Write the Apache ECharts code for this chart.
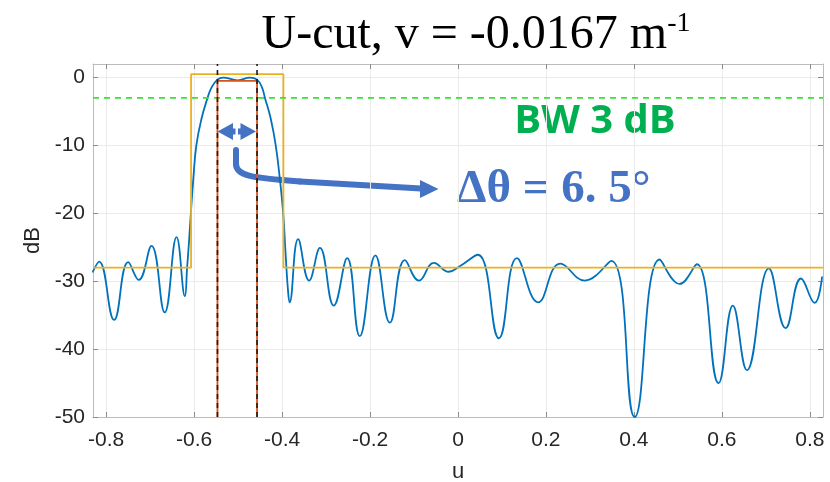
<!DOCTYPE html>
<html>
<head>
<meta charset="utf-8">
<script src="https://cdn.jsdelivr.net/npm/echarts@6/dist/echarts.min.js"></script>
<style>
  html, body { margin: 0; padding: 0; background: #fff; }
  #main { width: 830px; height: 482px; }
</style>
</head>
<body>
<div id="main"></div>
<script>
// radiation pattern cut
const patternU = [
  -0.831, -0.816, -0.782, -0.750, -0.726, -0.697, -0.667, -0.640, -0.621, -0.616,
  -0.6115, -0.6075, -0.602, -0.595, -0.583, -0.5695, -0.560, -0.547, -0.534, -0.501,
  -0.473, -0.457, -0.446, -0.439, -0.426, -0.4145, -0.405, -0.3975, -0.392, -0.387,
  -0.383, -0.3636, -0.3386, -0.314, -0.2825, -0.252, -0.2234, -0.1878, -0.155, -0.121,
  -0.0886, -0.055, -0.021, 0.004, 0.045, 0.093, 0.134, 0.182, 0.2327, 0.288,
  0.3486, 0.4016, 0.4584, 0.504, 0.543, 0.5925, 0.625, 0.657, 0.707, 0.745,
  0.780, 0.811, 0.828
]
const patternDb = [
  -28.7, -27.1, -35.7, -27.2, -29.8, -24.8, -34.6, -23.5, -32.2, -28,
  -24, -20, -15, -10, -6, -3, -1.4, -0.3, 0, -0.4,
  0, -0.3, -1.4, -3, -6, -10, -15, -20, -26, -31,
  -33.1, -23.8, -29.9, -25.1, -33.6, -26.6, -38.1, -26.2, -36.1, -26.9,
  -29.9, -27.3, -28.6, -27.8, -26.1, -38.4, -26.6, -33.1, -27.4, -29.9,
  -27.0, -50, -26.8, -30.4, -27.5, -45, -33.6, -43.1, -28.1, -36.9,
  -29.6, -33.2, -29.3
]
// mask (yellow)
const maskU = [-0.83, -0.607, -0.607, -0.397, -0.397, 0.83]
const maskDb = [-28, -28, 0.5, 0.5, -28, -28]
// beam edges
const edgeU = [-0.547, -0.457]
const edgeTopDb = -0.5
const bw3Db = -3

const xTicks = [-0.8, -0.6, -0.4, -0.2, 0, 0.2, 0.4, 0.6, 0.8]
const yTicks = [-50, -40, -30, -20, -10, 0]
const xMin = -0.83, xMax = 0.83, yMin = -50, yMax = 2

const zip = (a, b) => a.map((v, i) => [v, b[i]])

const chart = echarts.init(document.getElementById('main'), null, { renderer: 'canvas' })

const axisFont = { fontFamily: 'Liberation Sans', fontSize: 21, color: '#262626' }
const boxLine = { show: true, onZero: false, lineStyle: { color: '#bcbcbc', width: 1 } }
const tickStyle = { show: true, inside: true, length: 5, lineStyle: { color: '#8c8c8c' } }

const vline = (u, top, color, type) => ({
  type: 'line',
  data: [[u, yMin], [u, top]],
  showSymbol: false,
  silent: true,
  lineStyle: { color: color, width: 1.6, type: type }
})

const arrowBlue = '#4472c4'
const arrowLine = { fill: null, stroke: arrowBlue, lineWidth: 6, lineCap: 'round' }

const option = {
  animation: false,
  backgroundColor: '#fff',
  grid: { left: 93, right: 7, top: 64, bottom: 65, containLabel: false, outerBoundsMode: 'none' },
  xAxis: [{
    type: 'value', min: xMin, max: xMax,
    name: 'u', nameLocation: 'middle', nameGap: 44,
    nameTextStyle: { fontFamily: 'Liberation Sans', fontSize: 22, color: '#262626' },
    axisLine: boxLine,
    axisTick: Object.assign({ customValues: xTicks }, tickStyle),
    axisLabel: Object.assign({ customValues: xTicks, margin: 13 }, axisFont),
    splitLine: { show: true, lineStyle: { color: '#ebebeb' } }
  }, {
    type: 'value', min: xMin, max: xMax, position: 'top',
    axisLine: boxLine,
    axisTick: Object.assign({ customValues: xTicks }, tickStyle),
    axisLabel: { show: false },
    splitLine: { show: false }
  }],
  yAxis: [{
    type: 'value', min: yMin, max: yMax,
    name: 'dB', nameLocation: 'middle', nameGap: 45,
    nameTextStyle: { fontFamily: 'Liberation Sans', fontSize: 22, color: '#262626' },
    axisLine: boxLine,
    axisTick: Object.assign({ customValues: yTicks }, tickStyle),
    axisLabel: Object.assign({ customValues: yTicks, margin: 8 }, axisFont),
    splitLine: { show: true, lineStyle: { color: '#ebebeb' } }
  }, {
    type: 'value', min: yMin, max: yMax, position: 'right',
    axisLine: boxLine,
    axisTick: Object.assign({ customValues: yTicks }, tickStyle),
    axisLabel: { show: false },
    splitLine: { show: false }
  }],
  series: [
    {
      type: 'line',
      data: zip(patternU, patternDb),
      smooth: 0.45,
      showSymbol: false,
      lineStyle: { color: '#0072bd', width: 1.8 }
    },
    {
      type: 'line',
      data: zip(maskU, maskDb),
      showSymbol: false,
      lineStyle: { color: '#edb120', width: 1.8 }
    },
    {
      type: 'line',
      data: [[xMin, bw3Db], [xMax, bw3Db]],
      showSymbol: false,
      lineStyle: { color: '#33e633', width: 1.8, type: [6, 5] }
    },
    {
      type: 'line',
      data: [[edgeU[0], yMin], [edgeU[0], edgeTopDb], [edgeU[1], edgeTopDb], [edgeU[1], yMin]],
      showSymbol: false,
      lineStyle: { color: '#d95319', width: 1.8 }
    },
    vline(edgeU[0], yMax, '#1a1a1a', [5, 4]),
    vline(edgeU[1], yMax, '#1a1a1a', [5, 4])
  ],
  graphic: [
    {
      type: 'text', x: 476, y: 35,
      style: {
        text: '{a|U-cut, v = -0.0167 m}{s|-1}',
        align: 'center', verticalAlign: 'middle',
        rich: {
          a: { fontFamily: 'Liberation Serif', fontSize: 48, fill: '#000' },
          s: { fontFamily: 'Liberation Serif', fontSize: 28, fill: '#000', verticalAlign: 'top', padding: [0, 0, 22, 0] }
        }
      }
    },
    {
      type: 'text', x: 595, y: 122,
      style: {
        text: 'BW 3 dB', align: 'center', verticalAlign: 'middle',
        fontFamily: 'Open Sans', fontWeight: 'bold', fontSize: 40, fill: '#00b050'
      }
    },
    {
      type: 'text', x: 457, y: 190,
      style: {
        text: 'Δθ = 6. 5°', align: 'left', verticalAlign: 'middle',
        fontFamily: 'Liberation Serif', fontWeight: 'bold', fontSize: 47, fill: arrowBlue
      }
    },
    {
      // double arrow
      type: 'polygon',
      shape: { points: [
        [217.5, 131.5], [233, 123], [233, 128.5], [235.5, 128.5], [235.5, 134.5], [233, 134.5], [233, 140]
      ] },
      style: { fill: arrowBlue }
    },
    {
      type: 'polygon',
      shape: { points: [
        [256, 131.5], [240.5, 123], [240.5, 128.5], [238, 128.5], [238, 134.5], [240.5, 134.5], [240.5, 140]
      ] },
      style: { fill: arrowBlue }
    },
    // curved arrow
    { type: 'line', shape: { x1: 236, y1: 150, x2: 236, y2: 164 }, style: arrowLine },
    {
      type: 'bezierCurve',
      shape: { x1: 236, y1: 164, cpx1: 236, cpy1: 176, cpx2: 252, cpy2: 178, x2: 300, y2: 181.5 },
      style: arrowLine
    },
    { type: 'line', shape: { x1: 300, y1: 181.5, x2: 421, y2: 188.5 }, style: arrowLine },
    {
      type: 'polygon',
      shape: { points: [[420, 180], [438.5, 189], [420, 198]] },
      style: { fill: arrowBlue }
    }
  ]
}

chart.setOption(option)
</script>
</body>
</html>
